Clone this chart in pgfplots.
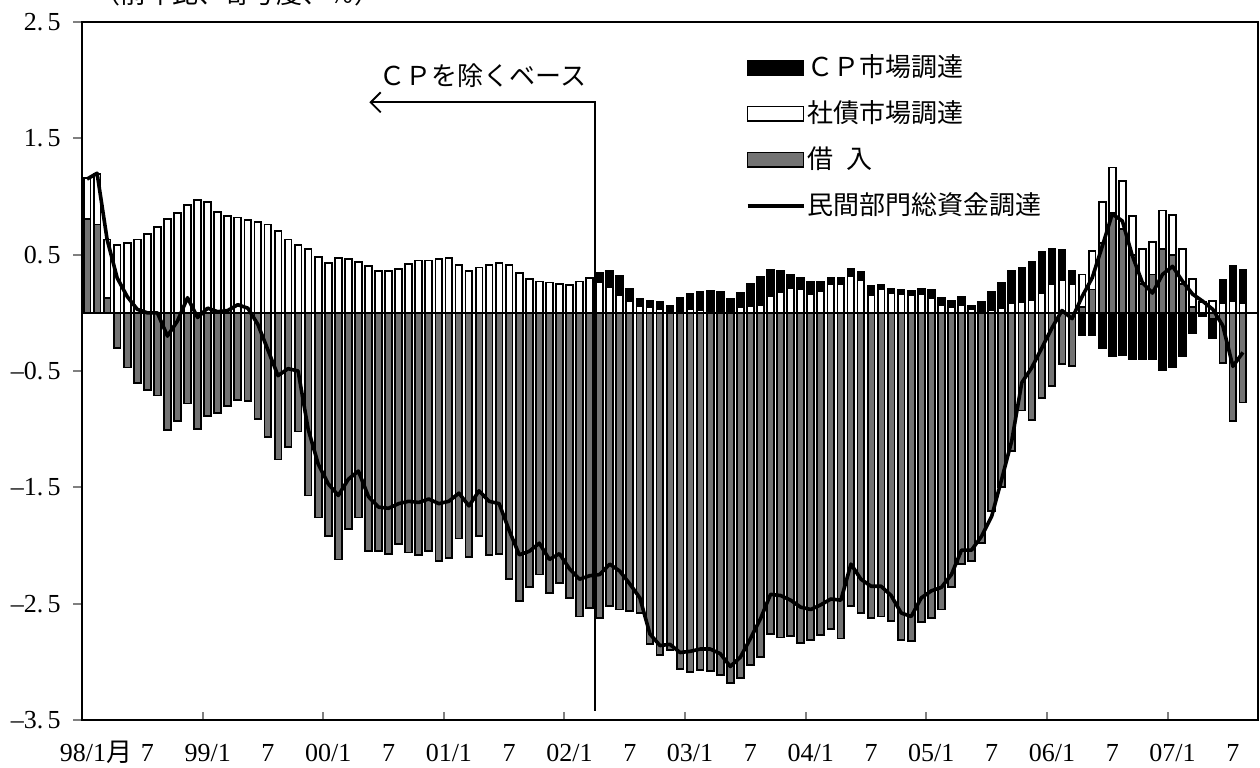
\documentclass[border=0pt]{standalone}
\usepackage{fontspec}
\setmainfont{Liberation Serif}
\newfontfamily\jp{Noto Sans CJK JP}
\usepackage{pgfplots}
\usepackage{pgfplotstable}
\pgfplotsset{compat=1.18}
\usetikzlibrary{arrows.meta}

\pgfplotstableread{
i bor bond cp tot
0 0.81 0.35 0 1.15
1 0.76 0.43 0 1.20
2 0.13 0.50 0 0.63
3 -0.30 0.58 0 0.30
4 -0.47 0.60 0 0.14
5 -0.60 0.63 0 0.03
6 -0.66 0.68 0 0.00
7 -0.71 0.74 0 0.00
8 -1.01 0.81 0 -0.20
9 -0.93 0.86 0 -0.07
10 -0.78 0.93 0 0.13
11 -1.00 0.97 0 -0.04
12 -0.89 0.95 0 0.04
13 -0.86 0.87 0 0.01
14 -0.80 0.83 0 0.02
15 -0.75 0.82 0 0.07
16 -0.76 0.80 0 0.04
17 -0.91 0.78 0 -0.10
18 -1.07 0.76 0 -0.32
19 -1.26 0.70 0 -0.54
20 -1.15 0.63 0 -0.48
21 -1.02 0.58 0 -0.50
22 -1.57 0.55 0 -1.00
23 -1.76 0.48 0 -1.30
24 -1.92 0.43 0 -1.47
25 -2.12 0.47 0 -1.57
26 -1.86 0.46 0 -1.43
27 -1.76 0.44 0 -1.36
28 -2.05 0.40 0 -1.58
29 -2.05 0.36 0 -1.67
30 -2.07 0.36 0 -1.68
31 -1.99 0.38 0 -1.64
32 -2.06 0.42 0 -1.62
33 -2.08 0.45 0 -1.63
34 -2.05 0.45 0 -1.60
35 -2.13 0.46 0 -1.64
36 -2.11 0.47 0 -1.62
37 -1.94 0.41 0 -1.55
38 -2.10 0.36 0 -1.66
39 -1.92 0.39 0 -1.53
40 -2.08 0.41 0 -1.62
41 -2.07 0.43 0 -1.64
42 -2.29 0.41 0 -1.87
43 -2.48 0.34 0 -2.08
44 -2.36 0.29 0 -2.05
45 -2.25 0.27 0 -1.98
46 -2.41 0.26 0 -2.12
47 -2.32 0.25 0 -2.07
48 -2.45 0.24 0 -2.20
49 -2.61 0.27 0 -2.29
50 -2.54 0.30 0 -2.26
51 -2.62 0.26 0.08 -2.25
52 -2.52 0.22 0.14 -2.16
53 -2.55 0.15 0.17 -2.22
54 -2.56 0.10 0.11 -2.33
55 -2.58 0.06 0.06 -2.45
56 -2.85 0.05 0.05 -2.76
57 -2.94 0.03 0.06 -2.86
58 -2.90 0.00 0.06 -2.85
59 -3.06 0.00 0.13 -2.92
60 -3.09 0.03 0.13 -2.91
61 -3.07 0.02 0.16 -2.89
62 -3.08 0.00 0.19 -2.89
63 -3.11 0.00 0.18 -2.93
64 -3.18 0.00 0.12 -3.04
65 -3.14 0.05 0.12 -2.96
66 -3.03 0.06 0.19 -2.80
67 -2.96 0.07 0.24 -2.63
68 -2.76 0.14 0.23 -2.42
69 -2.79 0.18 0.18 -2.43
70 -2.78 0.21 0.12 -2.47
71 -2.84 0.20 0.10 -2.53
72 -2.81 0.16 0.11 -2.55
73 -2.77 0.19 0.08 -2.51
74 -2.72 0.25 0.05 -2.46
75 -2.80 0.25 0.05 -2.47
76 -2.52 0.32 0.06 -2.16
77 -2.58 0.28 0.07 -2.29
78 -2.62 0.15 0.08 -2.35
79 -2.61 0.20 0.04 -2.35
80 -2.65 0.17 0.04 -2.43
81 -2.81 0.16 0.04 -2.58
82 -2.82 0.15 0.04 -2.61
83 -2.66 0.16 0.05 -2.45
84 -2.62 0.13 0.07 -2.39
85 -2.55 0.07 0.06 -2.36
86 -2.36 0.05 0.05 -2.25
87 -2.16 0.07 0.07 -2.04
88 -2.13 0.03 0.03 -2.04
89 -1.98 0.00 0.09 -1.92
90 -1.70 0.02 0.16 -1.75
91 -1.50 0.04 0.22 -1.43
92 -1.19 0.08 0.28 -1.10
93 -0.84 0.09 0.30 -0.60
94 -0.92 0.11 0.33 -0.47
95 -0.73 0.17 0.35 -0.30
96 -0.63 0.25 0.30 -0.13
97 -0.44 0.28 0.26 0.02
98 -0.46 0.25 0.11 -0.05
99 0.05 0.28 -0.19 0.14
100 0.20 0.33 -0.19 0.30
101 0.60 0.35 -0.30 0.57
102 0.86 0.39 -0.37 0.85
103 0.72 0.41 -0.36 0.79
104 0.50 0.33 -0.40 0.49
105 0.25 0.30 -0.40 0.26
106 0.33 0.28 -0.40 0.17
107 0.55 0.33 -0.49 0.33
108 0.50 0.34 -0.47 0.40
109 0.25 0.30 -0.37 0.27
110 0.05 0.24 -0.17 0.16
111 0.00 0.09 -0.03 0.10
112 -0.05 0.10 -0.17 0.03
113 -0.43 0.08 0.20 -0.11
114 -0.93 0.10 0.30 -0.46
115 -0.77 0.08 0.29 -0.34
}\data

\colorlet{hatch}{black!55}
\pgfplotsset{
  barlegend/.style={legend image code/.code={\draw[##1, line width=0.9pt] (0pt,-3.7pt) rectangle (28pt,3.7pt);}},
  linelegend/.style={legend image code/.code={\draw[##1, line width=1.8pt] (0pt,0pt) -- (28pt,0pt);}},
}

\begin{document}
\begin{tikzpicture}
\begin{axis}[
  scale only axis, width=588pt, height=349pt,
  xmin=-0.5, xmax=116.5, ymin=-3.5, ymax=2.5,
  ybar, bar shift=0pt, bar width=3.4pt,
  clip=false,
  axis line style={line width=1pt},
  tick align=outside,
  ytick={-3.5,-2.5,-1.5,-0.5,0.5,1.5,2.5},
  yticklabels={--3.\,5,--2.\,5,--1.\,5,--0.\,5,0.\,5,1.\,5,2.\,5},
  ytick pos=left,
  major tick length=4.5pt,
  ytick style={line width=1pt},
  yticklabel style={font=\fontsize{13}{13}\selectfont, inner sep=0pt, xshift=-6pt},
  xtick={0,6,...,114},
  xticklabels={{\hspace{9pt}98/1{\jp 月}},7,99/1,7,00/1,7,01/1,7,02/1,7,03/1,7,04/1,7,05/1,7,06/1,7,07/1,7},
  xtick pos=bottom,
  major x tick style={draw=none},
  minor xtick={11.5,23.5,...,107.5},
  minor tick length=4pt,
  minor x tick style={yshift=4pt, line width=1pt},
  xticklabel style={font=\fontsize{13}{13}\selectfont, inner sep=0pt, text height=9pt, text depth=0pt, yshift=-7pt},
  legend cell align=left,
  legend style={at={(rel axis cs:0.559,0.962)}, anchor=north west, draw=none, fill=none,
    font=\jp\fontsize{13}{15}\selectfont, row sep=8pt,
    nodes={inner sep=1pt, text height=11pt, text depth=2pt}},
]
\coordinate (SW) at (rel axis cs:0,0);
\coordinate (NE) at (rel axis cs:1,1);

\addlegendimage{barlegend, draw=black, fill=black}
\addlegendentry{ＣＰ市場調達}
\addlegendimage{barlegend, draw=black, fill=white}
\addlegendentry{社債市場調達}
\addlegendimage{barlegend, draw=black, fill=hatch}
\addlegendentry{借\hspace{0.5em}入}
\addlegendimage{linelegend, draw=black}
\addlegendentry{民間部門総資金調達}

% positive side (stacked by overlaying cumulative sums)
\addplot[forget plot, draw=black, line width=0.9pt, fill=black]
  table[x=i, y expr={max(\thisrow{bor},0)+max(\thisrow{bond},0)+max(\thisrow{cp},0)}] {\data};
\addplot[forget plot, draw=black, line width=0.9pt, fill=white]
  table[x=i, y expr={max(\thisrow{bor},0)+max(\thisrow{bond},0)}] {\data};
\addplot[forget plot, draw=black, line width=0.9pt, fill=hatch]
  table[x=i, y expr={max(\thisrow{bor},0)}] {\data};
% negative side
\addplot[forget plot, draw=black, line width=0.9pt, fill=black]
  table[x=i, y expr={min(\thisrow{bor},0)+min(\thisrow{bond},0)+min(\thisrow{cp},0)}] {\data};
\addplot[forget plot, draw=black, line width=0.9pt, fill=white]
  table[x=i, y expr={min(\thisrow{bor},0)+min(\thisrow{bond},0)}] {\data};
\addplot[forget plot, draw=black, line width=0.9pt, fill=hatch]
  table[x=i, y expr={min(\thisrow{bor},0)}] {\data};

\draw[line width=1pt] (axis cs:-0.5,0) -- (axis cs:116.5,0);

\addplot[forget plot, sharp plot, draw=black, fill=none, line width=1.8pt, line join=round, mark=none]
  table[x=i, y=tot] {\data};

\draw[line width=0.9pt, -{Straight Barb[length=5pt,width=10pt]}]
  (axis cs:50.5,-3.42) -- (axis cs:50.5,1.81) -- (axis cs:28.1,1.81);
\node[anchor=west, inner sep=0pt, font=\jp\fontsize{13}{13}\selectfont] at (axis cs:29.1,2.04) {ＣＰを除くベース};
\node[inner sep=0pt, font=\jp\fontsize{13}{13}\selectfont] at (axis cs:15,2.74) {（前年比、寄与度、％）};
\end{axis}
\pgfresetboundingbox
\useasboundingbox ([xshift=-41pt,yshift=-23.5pt]SW) rectangle ([xshift=1pt,yshift=11pt]NE);
\end{tikzpicture}
\end{document}
